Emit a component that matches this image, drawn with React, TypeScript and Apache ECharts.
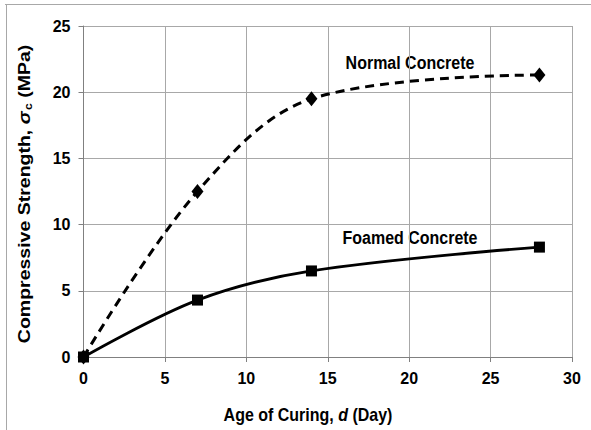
import React, { useEffect, useRef } from "react";
import * as echarts from "echarts";

const curingDays = [0, 7, 14, 28];
const normalConcrete = [0, 12.5, 19.5, 21.3];
const foamedConcrete = [0, 4.3, 6.5, 8.3];
const xTicks = [0, 5, 10, 15, 20, 25, 30];
const yTicks = [0, 5, 10, 15, 20, 25];

const FONT = "'Liberation Sans', Arial, sans-serif";

export default function App() {
  const ref = useRef<HTMLDivElement>(null);
  useEffect(() => {
    if (!ref.current) return;
    const chart = echarts.init(ref.current, null, { renderer: "svg" });
    const pair = (ys: number[]) => curingDays.map((d, i) => [d, ys[i]]);
    const boldRich = {
      t: { fontWeight: "bold", fontSize: 16, fontFamily: FONT, fill: "#000", color: "#000" },
      i: { fontWeight: "bold", fontStyle: "italic", fontSize: 16, fontFamily: FONT, fill: "#000", color: "#000" },
      sub: { fontWeight: "bold", fontSize: 10, fontFamily: FONT, fill: "#000", color: "#000", padding: [7, 0, 0, 1] },
    };
    chart.setOption({
      animation: false,
      backgroundColor: "#ffffff",
      textStyle: { fontFamily: FONT },
      grid: { left: 83.5, right: 19, top: 26, bottom: 73, containLabel: false },
      xAxis: {
        type: "value",
        min: xTicks[0],
        max: xTicks[xTicks.length - 1],
        interval: 5,
        axisLine: { show: true, lineStyle: { color: "#808080", width: 1 } },
        axisTick: { show: true, inside: false, length: 5, lineStyle: { color: "#808080" } },
        axisLabel: { color: "#000", fontWeight: "bold", fontSize: 16, fontFamily: FONT, margin: 13 },
        splitLine: { show: true, lineStyle: { color: "#a8a8a8", width: 1 } },
      },
      yAxis: {
        type: "value",
        min: yTicks[0],
        max: yTicks[yTicks.length - 1],
        interval: 5,
        axisLine: { show: true, lineStyle: { color: "#808080", width: 1 } },
        axisTick: { show: true, inside: false, length: 5, lineStyle: { color: "#808080" } },
        axisLabel: { color: "#000", fontWeight: "bold", fontSize: 16, fontFamily: FONT, margin: 13 },
        splitLine: { show: true, lineStyle: { color: "#a8a8a8", width: 1 } },
      },
      graphic: [
        { type: "line", shape: { x1: 5, y1: 4.5, x2: 591, y2: 4.5 }, style: { stroke: "#a8a8a8", lineWidth: 1 } },
        { type: "line", shape: { x1: 6.5, y1: 4, x2: 6.5, y2: 430 }, style: { stroke: "#a8a8a8", lineWidth: 1 } },
        {
          type: "text",
          x: 25,
          y: 194,
          rotation: Math.PI / 2,
          scaleX: 1.22,
          scaleY: 1,
          style: {
            text: "{t|Compressive Strength, }{i|σ}{sub|c}{t| (MPa)}",
            rich: boldRich,
            align: "center",
            verticalAlign: "middle",
          },
        },
        {
          type: "text",
          x: 308,
          y: 415,
          scaleX: 1,
          scaleY: 1.15,
          style: {
            text: "{t|Age of Curing, }{i|d}{t| (Day)}",
            rich: boldRich,
            align: "center",
            verticalAlign: "middle",
          },
        },
        {
          type: "text",
          x: 410,
          y: 63,
          scaleY: 1.1,
          style: { text: "Normal Concrete", font: `bold 16px ${FONT}`, fill: "#000", align: "center", verticalAlign: "middle" },
        },
        {
          type: "text",
          x: 410,
          y: 238,
          scaleY: 1.1,
          style: { text: "Foamed Concrete", font: `bold 16px ${FONT}`, fill: "#000", align: "center", verticalAlign: "middle" },
        },
      ],
      series: [
        {
          type: "line",
          name: "Normal Concrete",
          data: pair(normalConcrete),
          smooth: 0.35,
          symbol: "diamond",
          symbolSize: [12, 15],
          itemStyle: { color: "#000" },
          lineStyle: { color: "#000", width: 3, type: [9, 6] },
          z: 3,
        },
        {
          type: "line",
          name: "Foamed Concrete",
          data: pair(foamedConcrete),
          smooth: 0.35,
          symbol: "rect",
          symbolSize: 11,
          itemStyle: { color: "#000" },
          lineStyle: { color: "#000", width: 2.8 },
          z: 3,
        },
      ],
    });
    return () => chart.dispose();
  }, []);
  return <div ref={ref} style={{ width: 591, height: 430, position: "absolute", left: 0, top: 0 }} />;
}
